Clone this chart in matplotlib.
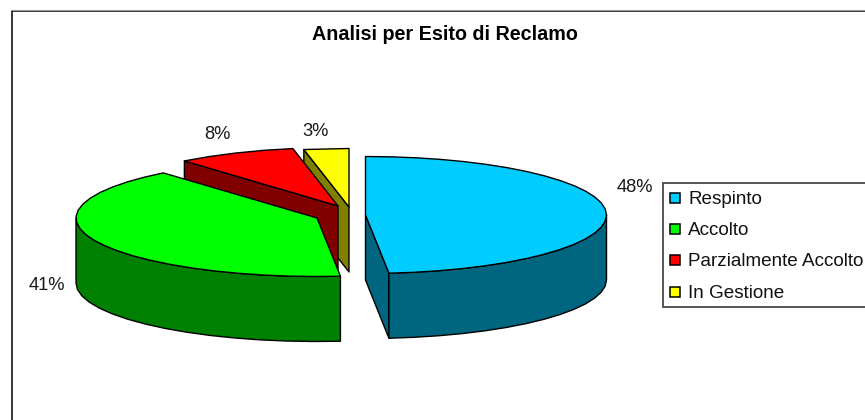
import numpy as np
import matplotlib
matplotlib.use("Agg")
import matplotlib.pyplot as plt
from matplotlib.patches import Polygon, Rectangle

plt.rcParams['font.family'] = ['Liberation Sans', 'DejaVu Sans']

title = "Analisi per Esito di Reclamo"
categories = ["Respinto", "Accolto", "Parzialmente Accolto", "In Gestione"]
values = [48.45, 40.55, 8.0, 3.0]
top_colors = ["#00CCFF", "#00FF00", "#FF0000", "#FFFF00"]
side_colors = ["#006680", "#008000", "#800000", "#808000"]

# slice apex positions (exploded pie), pixels
apex = [(365.5, 215), (317, 218), (338, 206), (349, 207)]
rx, ry, depth = 241, 58.5, 65
label_pos = [(634.5, 187.5), (47, 285.5), (217, 134.5), (316, 131.5)]

fig = plt.figure(figsize=(8.65, 4.2), dpi=100)
ax = fig.add_axes([0, 0, 1, 1])
ax.set_xlim(0, 865)
ax.set_ylim(420, 0)
ax.axis("off")

# chart frame (runs past right and bottom edges)
ax.add_patch(Rectangle((11.5, 10.5), 900, 500, fc="white", ec="black", lw=1.1, zorder=1))
ax.plot([11, 865], [9.5, 9.5], color="#999999", lw=0.8, zorder=1)

# angular spans, clockwise from the top
ang = np.cumsum([0] + [v / sum(values) * 360 for v in values])
spans = [(ang[i], ang[i + 1]) for i in range(4)]

def rim(c, t0, t1, step=6.0):
    n = max(2, int(abs(t1 - t0) / step) + 1)
    t = np.radians(np.linspace(t0, t1, n))
    return np.c_[c[0] + rx * np.sin(t), c[1] - ry * np.cos(t)]

def poly(pts, color, z):
    ax.add_patch(Polygon(pts, closed=True, fc=color, ec="black", lw=1.0, joinstyle="round", zorder=z))

def drop(pts):
    return pts + np.array([0, depth])

def cut_face(c, t, color, z):
    p = rim(c, t, t)[:1]
    a = np.array([c])
    poly(np.vstack([p, a, drop(a), drop(p)]), color, z)

def rim_face(c, t0, t1, color, z):
    r = rim(c, t0, t1)
    poly(np.vstack([r, drop(r)[::-1]]), color, z)

# back to front: yellow, red, green, blue
z = 2
for i in [3, 2, 1, 0]:
    c = apex[i]
    t0, t1 = spans[i]
    if i in (2, 3):
        cut_face(c, t0, side_colors[i], z)
    elif i == 1:
        rim_face(c, t0, 270, side_colors[i], z)
    else:
        cut_face(c, t1, side_colors[i], z)
        rim_face(c, 90, t1, side_colors[i], z)
    poly(np.vstack([[c], rim(c, t0, t1)]), top_colors[i], z + 0.5)
    z += 1

# percentage labels
for v, (x, y) in zip(values, label_pos):
    ax.text(x, y, f"{v:.0f}%", ha="center", va="center", fontsize=13.2, color="#1a1a1a", zorder=10)

ax.text(444.5, 34.5, title, ha="center", va="center", fontsize=14.2, fontweight="bold", color="black", zorder=10)

# legend box
ax.add_patch(Rectangle((663, 182.5), 300, 124, fc="white", ec="#555555", lw=1.4, zorder=10))
leg_y = [198, 229, 260, 292]
for name, col, y in zip(categories, top_colors, leg_y):
    ax.add_patch(Rectangle((670, y - 5), 10, 10, fc=col, ec="black", lw=1.1, zorder=11))
    ax.text(688, y + 1.5, name, ha="left", va="center", fontsize=13.55, color="#111111", zorder=11)

fig.savefig("out.png", dpi=100)
